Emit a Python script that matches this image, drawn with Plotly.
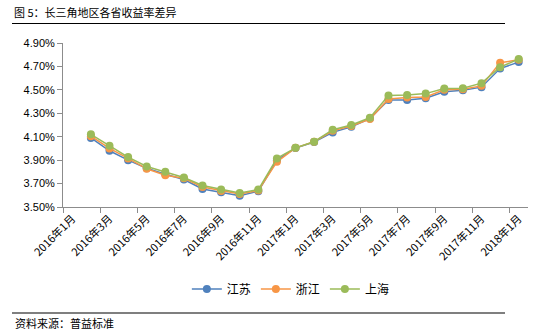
import plotly.graph_objects as go

# Monthly categories on the x axis (2016-01 .. 2018-01)
months = [
    "2016年1月", "2016年2月", "2016年3月", "2016年4月", "2016年5月", "2016年6月",
    "2016年7月", "2016年8月", "2016年9月", "2016年10月", "2016年11月", "2016年12月",
    "2017年1月", "2017年2月", "2017年3月", "2017年4月", "2017年5月", "2017年6月",
    "2017年7月", "2017年8月", "2017年9月", "2017年10月", "2017年11月", "2017年12月",
    "2018年1月",
]

# Average yield (%) by province; no value reported for 2016-01
jiangsu = [None, 4.09, 3.98, 3.90, 3.83, 3.78, 3.735, 3.654, 3.626, 3.597, 3.634, 3.90,
           4.003, 4.055, 4.137, 4.185, 4.255, 4.414, 4.414, 4.429, 4.483, 4.497, 4.523,
           4.682, 4.737]
zhejiang = [None, 4.105, 4.00, 3.915, 3.826, 3.771, 3.745, 3.67, 3.637, 3.61, 3.64, 3.886,
            4.005, 4.057, 4.15, 4.192, 4.251, 4.423, 4.434, 4.44, 4.50, 4.505, 4.534,
            4.731, 4.757]
shanghai = [None, 4.12, 4.023, 3.926, 3.846, 3.80, 3.752, 3.683, 3.649, 3.62, 3.649, 3.915,
            4.005, 4.057, 4.16, 4.20, 4.262, 4.451, 4.457, 4.468, 4.511, 4.514, 4.557,
            4.694, 4.763]

series = [("江苏", jiangsu, "#4F81BD"),
          ("浙江", zhejiang, "#F79646"),
          ("上海", shanghai, "#9BBB59")]

CJK = "Noto Sans CJK SC"
AXIS_COLOR = "#8C8C8C"

fig = go.Figure()
for name, vals, color in series:
    fig.add_trace(go.Scatter(
        x=months, y=vals, name=name, mode="lines+markers",
        line=dict(color=color, width=1.5),
        marker=dict(color=color, size=8),
        connectgaps=False,
    ))

# plot-area geometry in pixels, used to place the header/footer decorations
W, H = 545, 336
L, R, T, B = 63, 17, 43, 129
pw, ph = W - L - R, H - T - B


def px_x(px):
    return (px - L) / pw


def px_y(py):
    return (H - B - py) / ph


fig.update_layout(
    width=W, height=H,
    margin=dict(l=L, r=R, t=T, b=B),
    paper_bgcolor="white", plot_bgcolor="white",
    font=dict(family=CJK, size=11, color="#000000"),
    showlegend=True,
    legend=dict(orientation="h", x=0.49, xanchor="center", y=px_y(289), yanchor="middle",
                font=dict(family=CJK, size=12, color="#000000"),
                itemwidth=30, tracegroupgap=0),
    xaxis=dict(
        type="category", categoryorder="array", categoryarray=months,
        tickmode="linear", tick0=0, dtick=2,
        tickson="boundaries", ticks="outside", ticklen=5, tickcolor=AXIS_COLOR,
        tickangle=-45, tickfont=dict(family=CJK, size=11, color="#000000"),
        showline=True, linecolor=AXIS_COLOR, linewidth=1,
        showgrid=False, zeroline=False,
        range=[-0.5, 24.5],
    ),
    yaxis=dict(
        range=[3.5, 4.9], tickmode="linear", tick0=3.5, dtick=0.2,
        tickformat=".2f", ticksuffix="%",
        ticks="outside", ticklen=5, tickcolor=AXIS_COLOR,
        tickfont=dict(family="Liberation Sans", size=11, color="#000000"),
        showline=True, linecolor=AXIS_COLOR, linewidth=1,
        showgrid=False, zeroline=False,
    ),
    annotations=[
        dict(text="图 5：长三角地区各省收益率差异", xref="paper", yref="paper",
             x=px_x(12), y=px_y(12), xanchor="left", yanchor="middle",
             showarrow=False, font=dict(family=CJK, size=11, color="#000000")),
        dict(text="资料来源：普益标准", xref="paper", yref="paper",
             x=px_x(13), y=px_y(323), xanchor="left", yanchor="middle",
             showarrow=False, font=dict(family=CJK, size=11, color="#000000")),
    ],
    shapes=[
        dict(type="line", xref="paper", yref="paper",
             x0=px_x(12), x1=px_x(505), y0=px_y(23.5), y1=px_y(23.5),
             line=dict(color="#000000", width=1.2)),
        dict(type="line", xref="paper", yref="paper",
             x0=px_x(12), x1=px_x(505), y0=px_y(313), y1=px_y(313),
             line=dict(color="#000000", width=1.2)),
    ],
)

fig.write_html("out.html")
